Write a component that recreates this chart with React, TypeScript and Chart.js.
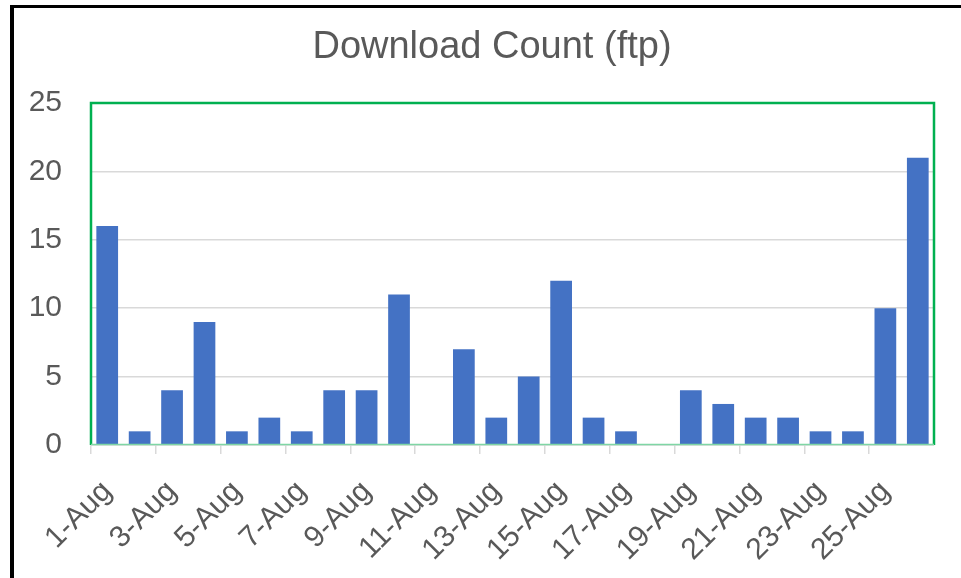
import React, { useEffect, useRef } from "react";
import { Chart, registerables } from "chart.js";

Chart.register(...registerables);

const categories: string[] = [
  "1-Aug", "2-Aug", "3-Aug", "4-Aug", "5-Aug", "6-Aug", "7-Aug", "8-Aug", "9-Aug",
  "10-Aug", "11-Aug", "12-Aug", "13-Aug", "14-Aug", "15-Aug", "16-Aug", "17-Aug",
  "18-Aug", "19-Aug", "20-Aug", "21-Aug", "22-Aug", "23-Aug", "24-Aug", "25-Aug", "26-Aug",
];
const downloads: number[] = [
  16, 1, 4, 9, 1, 2, 1, 4, 4, 11, 0, 7, 2, 5, 12, 2, 1, 0, 4, 3, 2, 2, 1, 1, 10, 21,
];
const yTicks: number[] = [0, 5, 10, 15, 20, 25];
const titleText = "Download Count (ftp)";

const W = 961;
const H = 578;

export default function App() {
  const ref = useRef<HTMLCanvasElement | null>(null);

  useEffect(() => {
    const canvas = ref.current;
    if (!canvas) return;

    const titlePlugin = {
      id: "customTitle",
      afterDraw(chart: any) {
        const ctx = chart.ctx;
        ctx.save();
        ctx.font = "38px 'Liberation Sans', Arial, sans-serif";
        ctx.fillStyle = "#595959";
        ctx.textAlign = "center";
        ctx.textBaseline = "middle";
        ctx.fillText(titleText, 492, 48);
        ctx.restore();
      },
    };

    const borderPlugin = {
      id: "plotBorder",
      afterDatasetsDraw(chart: any) {
        const { ctx, chartArea } = chart;
        ctx.save();
        ctx.strokeStyle = "#00b050";
        ctx.lineWidth = 2.5;
        ctx.beginPath();
        ctx.moveTo(chartArea.left, chartArea.bottom);
        ctx.lineTo(chartArea.left, chartArea.top);
        ctx.lineTo(chartArea.right, chartArea.top);
        ctx.lineTo(chartArea.right, chartArea.bottom);
        ctx.stroke();
        ctx.strokeStyle = "#7fd6a5";
        ctx.lineWidth = 1.5;
        ctx.beginPath();
        ctx.moveTo(chartArea.left, chartArea.bottom - 0.5);
        ctx.lineTo(chartArea.right, chartArea.bottom - 0.5);
        ctx.stroke();
        ctx.restore();
      },
    };

    const chart = new Chart(canvas, {
      type: "bar",
      data: {
        labels: categories,
        datasets: [
          {
            label: "Downloads",
            data: downloads,
            backgroundColor: "#4472c4",
            borderWidth: 0,
            barPercentage: 0.67,
            categoryPercentage: 1,
          },
        ],
      },
      options: {
        responsive: false,
        animation: false,
        devicePixelRatio: 1,
        layout: { padding: { left: 12, right: 27, top: 103, bottom: 0 } },
        plugins: {
          legend: { display: false },
          title: { display: false },
          tooltip: { enabled: false },
        },
        scales: {
          y: {
            min: 0,
            max: 25,
            afterBuildTicks: (scale: any) => {
              scale.ticks = yTicks.map((v) => ({ value: v }));
            },
            afterFit: (scale: any) => {
              scale.width = 79;
              scale.paddingTop = 0;
              scale.paddingBottom = 0;
            },
            ticks: {
              font: { size: 30, family: "'Liberation Sans', Arial, sans-serif" },
              color: "#595959",
              padding: 29,
            },
            grid: { color: "#d9d9d9", lineWidth: 1.5, drawTicks: false },
            border: { display: false },
          },
          x: {
            afterFit: (scale: any) => {
              scale.height = 133;
              scale.paddingLeft = 0;
              scale.paddingRight = 0;
            },
            ticks: {
              autoSkip: false,
              maxRotation: 45,
              minRotation: 45,
              font: { size: 30, family: "'Liberation Sans', Arial, sans-serif" },
              color: "#595959",
              padding: 20,
              callback: (_v: any, i: number) => (i % 2 === 0 ? categories[i] : ""),
            },
            grid: {
              offset: true,
              drawOnChartArea: false,
              drawTicks: true,
              tickLength: 9,
              lineWidth: 1.5,
              color: (ctx: any) => (ctx.index % 2 === 0 ? "#d9d9d9" : "rgba(0,0,0,0)"),
            },
            border: { display: true, color: "#d9d9d9", width: 1.5 },
          },
        },
      },
      plugins: [titlePlugin, borderPlugin],
    });

    return () => chart.destroy();
  }, []);

  return (
    <div style={{ position: "fixed", left: 0, top: 0, width: W, height: H, background: "#ffffff" }}>
      <canvas ref={ref} width={W} height={H} style={{ display: "block", width: W, height: H }} />
      <div style={{ position: "absolute", left: 10, top: 5, width: W - 10, height: 3, background: "#000" }} />
      <div style={{ position: "absolute", left: 10, top: 5, width: 4, height: H - 5, background: "#000" }} />
    </div>
  );
}
